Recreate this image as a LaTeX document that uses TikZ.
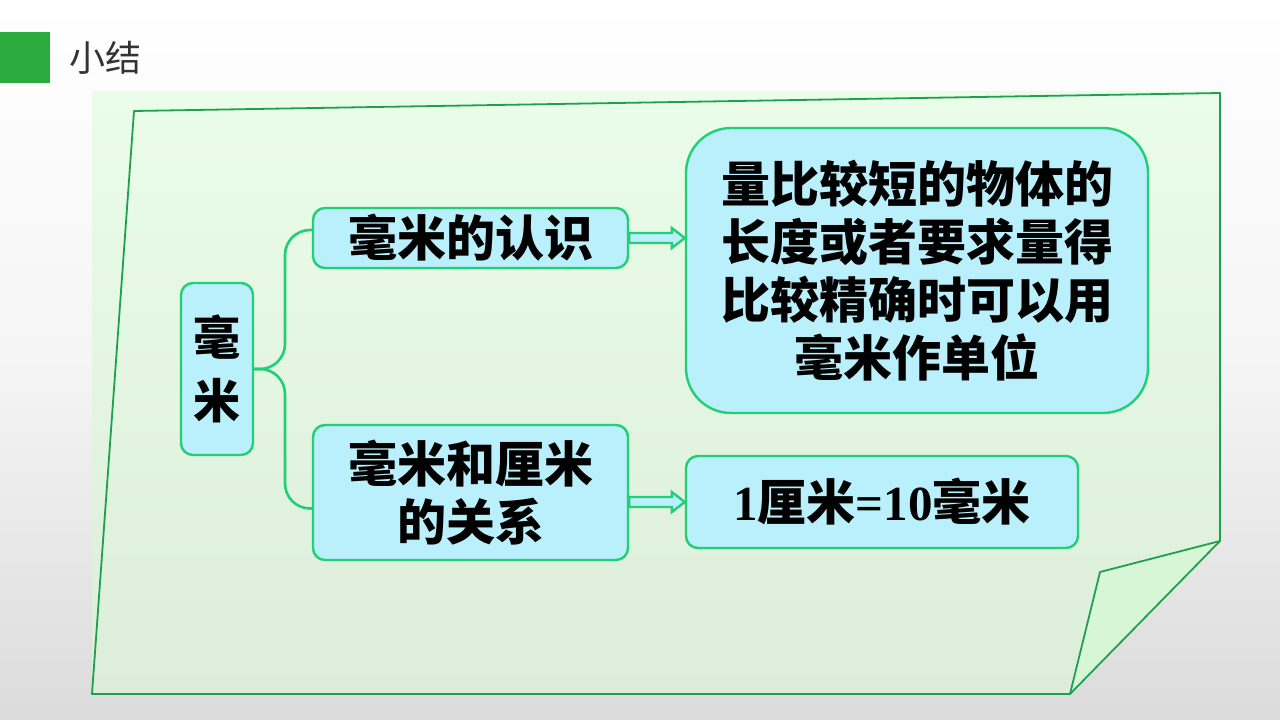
\documentclass[tikz,border=0pt]{standalone}
\usepackage{fontspec}
\newfontfamily\cjk{Noto Sans CJK SC}
\newfontfamily\tnr{Liberation Serif}
\usetikzlibrary{calc}
\definecolor{headgreen}{RGB}{43,170,62}
\definecolor{edgegreen}{RGB}{34,206,120}
\definecolor{pagegreen}{RGB}{30,160,80}
\definecolor{boxcyan}{RGB}{185,240,251}
\definecolor{paletop}{RGB}{234,253,232}
\definecolor{palebot}{RGB}{220,238,218}
\definecolor{foldgreen}{RGB}{214,246,214}
\tikzset{
  box/.style={draw=edgegreen, line width=2.4pt, fill=boxcyan, rounded corners=12pt,
    align=center, inner sep=0pt, font=\cjk\bfseries\fontsize{49}{58}\selectfont},
  link/.style={draw=edgegreen, line width=2.6pt, rounded corners=25pt},
  fat/.style={draw=edgegreen, line width=2.4pt, fill=boxcyan,
    to path={let \p1=(\tikztostart), \p2=(\tikztotarget) in
      (\x1,\y1+5pt) -- (\x2-13pt,\y1+5pt) -- (\x2-13pt,\y1+10pt) -- (\x2,\y1)
      -- (\x2-13pt,\y1-10pt) -- (\x2-13pt,\y1-5pt) -- (\x1,\y1-5pt) -- cycle}}
}
\begin{document}
\begin{tikzpicture}[x=1pt,y=-1pt]
  \useasboundingbox (0,0) rectangle (1280,720);
  \shade[top color=white, bottom color=black!14, middle color=white!96!black] (0,0) rectangle (1280,720);
  % title bar
  \fill[headgreen] (0,32) rectangle (50,83);
  \node[anchor=west, font=\cjk\fontsize{36}{42}\selectfont, text=black!80] (title) at (66,58) {小结};
  % paper
  \shade[top color=paletop, bottom color=palebot]
    (92,91) -- (1220,91) -- (1220,541) -- (1070,694) -- (92,694) -- cycle;
  \fill[foldgreen] (1220,541) -- (1100,572) -- (1070,694) -- cycle;
  \draw[pagegreen, line width=1.8pt, line join=round]
    (134,111) -- (1220,93) -- (1220,541) -- (1100,572) -- (1070,694) -- (92,694) -- cycle;
  \draw[pagegreen, line width=1.8pt] (1220,541) -- (1070,694);
  % boxes
  \node[box, minimum width=72pt, minimum height=172pt, font=\cjk\bfseries\fontsize{47}{63}\selectfont] (mm) at (217,369) {毫\\米};
  \node[box, minimum width=315pt, minimum height=60pt] (rec) at (470.5,238) {毫米的认识};
  \node[box, minimum width=315pt, minimum height=135pt] (rel) at (470.5,492.5) {毫米和厘米\\的关系};
  \node[box, minimum width=462pt, minimum height=285pt, rounded corners=45pt] (use) at (917,270.5)
    {量比较短的物体的\\长度或者要求量得\\比较精确时可以用\\毫米作单位};
  \node[box, minimum width=392pt, minimum height=92pt] (eq) at (882,502)
    {{\tnr 1}厘米{\tnr =10}毫米};
  \coordinate (j) at (285,369);
  \draw[link] ([yshift=8pt]rec.west) -| (j) -- (mm.east);
  \draw[link] ([yshift=-16pt]rel.west) -| (j) -- (mm.east);
  \draw[fat] (rec.east) to (use.west |- rec.east);
  \draw[fat] (rel.east |- eq.west) to (eq.west);
\end{tikzpicture}
\end{document}
